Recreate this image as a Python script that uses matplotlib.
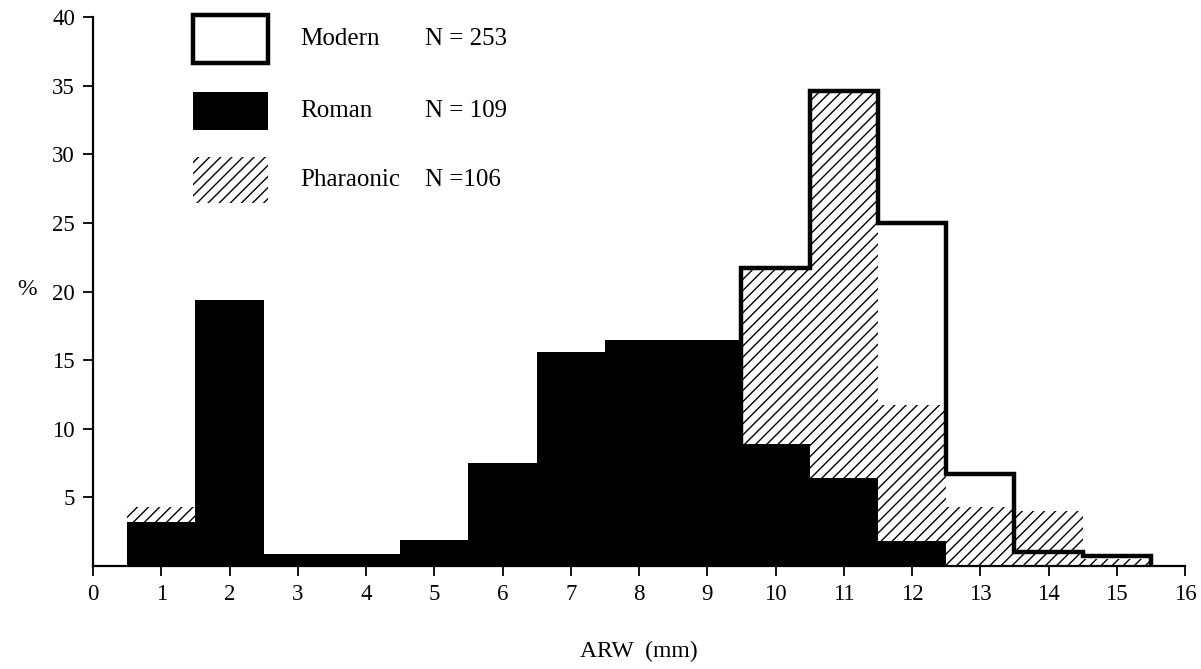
import matplotlib
matplotlib.use("Agg")
import matplotlib.pyplot as plt
from matplotlib.patches import Rectangle
import numpy as np

plt.rcParams['font.family'] = ['Liberation Serif', 'DejaVu Serif']
plt.rcParams['hatch.linewidth'] = 1.0

# ARW bins (mm), one bar per integer, width 1
bins = np.arange(1, 16)

roman_pct = [3.2, 19.4, 0.9, 0.9, 1.9, 7.5, 15.6, 16.5, 16.5, 8.9, 6.4, 1.8, 0, 0, 0]
pharaonic_pct = [4.3, 6.6, 0, 0, 0, 0, 0, 1.5, 10.4, 21.7, 34.6, 11.7, 4.3, 4.0, 0.5]

# modern is only visible from 10 mm upward (the rest lies under the black bars)
modern_bins = np.arange(10, 16)
modern_pct = [21.7, 34.6, 25.0, 6.7, 1.0, 0.7]

legend_names = ['Modern', 'Roman', 'Pharaonic']
legend_n = ['N = 253', 'N = 109', 'N =106']

fig = plt.figure(figsize=(12.01, 6.69), dpi=100)
ax = fig.add_axes([93/1201, 1 - 566/669, 1092/1201, 549/669])

ax.bar(bins, pharaonic_pct, width=1.0, facecolor='none', edgecolor='black',
       linewidth=0, hatch='///', zorder=1)
ax.bar(bins, roman_pct, width=1.0, color='black', linewidth=0, zorder=2)

# modern as a thick outline step
edges = np.concatenate([modern_bins - 0.5, [modern_bins[-1] + 0.5]])
xs = np.repeat(edges, 2)
ys = np.concatenate([[0], np.repeat(modern_pct, 2), [0]])
ax.plot(xs, ys, color='black', linewidth=3.2, solid_joinstyle='miter', zorder=3)

ax.set_xlim(0, 16)
ax.set_ylim(0, 40)
ax.set_xticks(range(0, 17))
ax.set_yticks(range(5, 41, 5))
ax.tick_params(axis='both', direction='out', length=7, width=1.3,
               labelsize=16.5, pad=6)
for s in ['top', 'right']:
    ax.spines[s].set_visible(False)
for s in ['left', 'bottom']:
    ax.spines[s].set_linewidth(1.6)

ax.set_xlabel('ARW  (mm)', fontsize=17, labelpad=26)
ax.set_ylabel('%', fontsize=17, rotation=0)
ax.yaxis.set_label_coords(-0.06, 0.485)

# legend drawn by hand, as in the original figure
tr = ax.transAxes
box_x, box_w = 100/1092, 75/1092
rows_y = [(503/549, 48/549), (436/549, 38/549), (363/549, 46/549)]
styles = [dict(facecolor='white', edgecolor='black', linewidth=3.2),
          dict(facecolor='black', edgecolor='black', linewidth=0),
          dict(facecolor='none', edgecolor='black', linewidth=0, hatch='///')]
for (y0, h), st, name, n in zip(rows_y, styles, legend_names, legend_n):
    ax.add_patch(Rectangle((box_x, y0), box_w, h, transform=tr,
                           clip_on=False, **st))
    ax.text(207/1092, y0 + h/2, name, transform=tr, fontsize=18,
            va='center', ha='left')
    ax.text(332/1092, y0 + h/2, n, transform=tr, fontsize=18,
            va='center', ha='left')

plt.savefig('out.png', dpi=100, facecolor='white')
plt.close()
